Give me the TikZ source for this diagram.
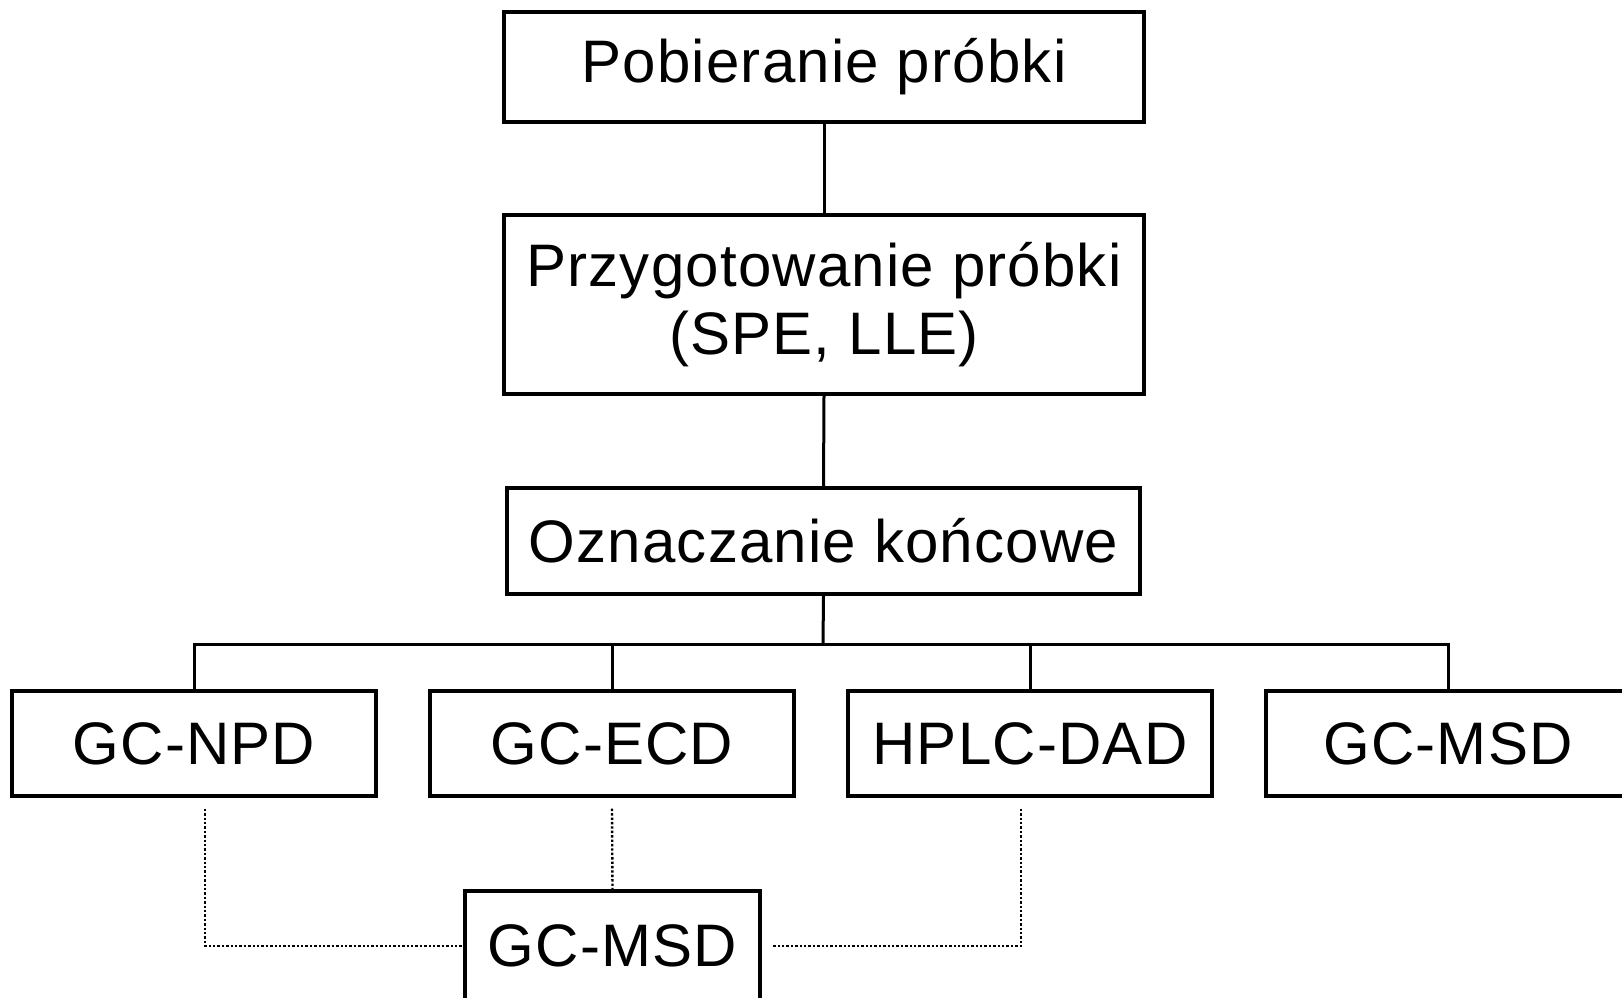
\documentclass[tikz,border=0pt]{standalone}
\usepackage{fontspec}
\setmainfont{Liberation Sans}[LetterSpace=2]
\usetikzlibrary{calc}

\begin{document}
\begin{tikzpicture}[x=0.5pt,y=-0.5pt,
  stage/.style={draw,line width=1.7pt,inner sep=0pt,align=center,
                font=\fontsize{30}{34}\selectfont},
  link/.style={line width=1.5pt},
  dotlink/.style={line width=1.2pt,dash pattern=on 1.2pt off 1pt}]
\useasboundingbox (0,0) rectangle (1622,997);
%main steps
\node[stage,minimum width=320pt,minimum height=55pt] (take) at (824,67) {Pobieranie próbki};
\node[stage,minimum width=320pt,minimum height=89.5pt] (prep) at (824,304.5) {Przygotowanie próbki\\(SPE, LLE)};
\node[stage,minimum width=316.5pt,minimum height=53pt] (final) at (823.5,541) {Oznaczanie końcowe};
\coordinate (bus) at (823,644);
%detectors
\node[stage,minimum width=182pt,minimum height=52.5pt] (npd) at (194,743.5) {GC-NPD};
\node[stage,minimum width=182pt,minimum height=52.5pt] (ecd) at (612,743.5) {GC-ECD};
\node[stage,minimum width=182pt,minimum height=52.5pt] (dad) at (1030,743.5) {HPLC-DAD};
\node[stage,minimum width=182pt,minimum height=52.5pt] (msd) at (1448,743.5) {GC-MSD};
%confirmation
\node[stage,minimum width=147.5pt,minimum height=55pt] (conf) at (612.5,946) {GC-MSD};
%links
\draw[link] (take.south) -- (prep.north);
\draw[link] (prep.south) -- (final.north);
\draw[link] (final.south) -- (bus);
\draw[link] (npd.north) -- (npd.north |- bus) -| (msd.north);
\draw[link] (ecd.north) -- (ecd.north |- bus);
\draw[link] (dad.north) -- (dad.north |- bus);
%dotted
\draw[dotlink] ([xshift=5.5pt,yshift=-5.5pt]npd.south) |- (conf.west);
\draw[dotlink] ([yshift=-5.5pt]ecd.south) -- (conf.north);
\draw[dotlink] ([xshift=-4.5pt,yshift=-5.5pt]dad.south) |- ([xshift=5pt]conf.east);
\end{tikzpicture}
\end{document}
